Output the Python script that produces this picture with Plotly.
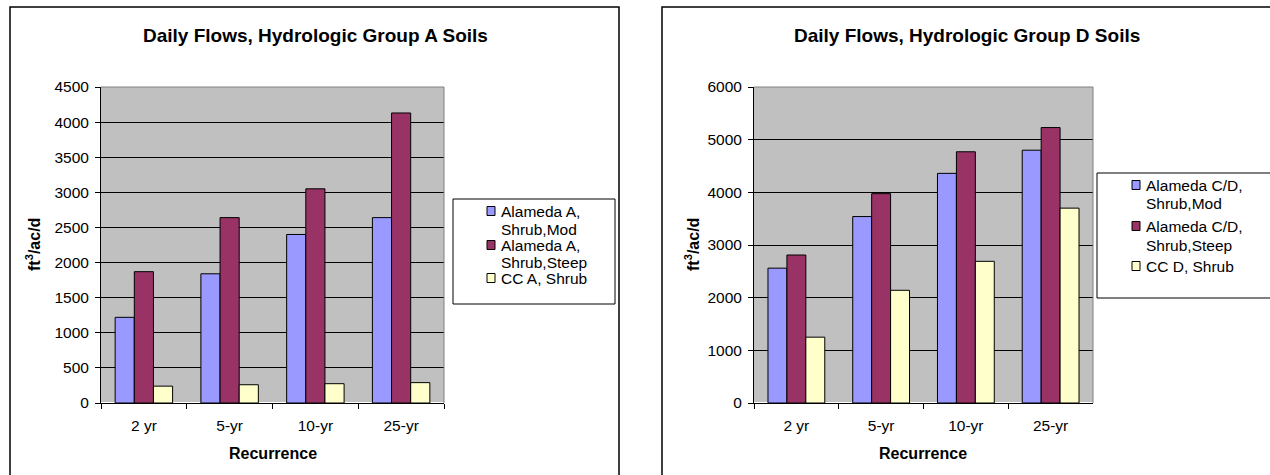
import plotly.graph_objects as go

W, H = 1270, 475

categories = ["2 yr", "5-yr", "10-yr", "25-yr"]

# Group A soils
a_names = ["Alameda A, Shrub,Mod", "Alameda A, Shrub,Steep", "CC A, Shrub"]
a_mod = [1220, 1840, 2400, 2640]
a_steep = [1870, 2640, 3050, 4130]
a_cc = [240, 260, 275, 290]

# Group D soils
d_names = ["Alameda C/D, Shrub,Mod", "Alameda C/D, Shrub,Steep", "CC D, Shrub"]
d_mod = [2560, 3540, 4360, 4800]
d_steep = [2810, 3975, 4770, 5230]
d_cc = [1250, 2140, 2690, 3700]

# legend text as displayed (wrapped lines)
a_legend_lines = [["Alameda A,", "Shrub,Mod"], ["Alameda A,", "Shrub,Steep"], ["CC A, Shrub"]]
d_legend_lines = [["Alameda C/D,", "Shrub,Mod"], ["Alameda C/D,", "Shrub,Steep"], ["CC D, Shrub"]]

colors = ["#9999FF", "#993366", "#FFFFCC"]
FONT = "Liberation Sans, Arial, sans-serif"
TICK = 15.5


def px(x):
    return x / W


def py(y):
    return 1 - y / H


fig = go.Figure()

for name, vals, c in zip(a_names, [a_mod, a_steep, a_cc], colors):
    fig.add_trace(go.Bar(x=categories, y=vals, name=name, marker=dict(color=c, line=dict(color="black", width=1)),
                         xaxis="x", yaxis="y", showlegend=False))
for name, vals, c in zip(d_names, [d_mod, d_steep, d_cc], colors):
    fig.add_trace(go.Bar(x=categories, y=vals, name=name, marker=dict(color=c, line=dict(color="black", width=1)),
                         xaxis="x2", yaxis="y2", showlegend=False))

axis_common = dict(showline=True, linecolor="black", linewidth=1, ticks="outside", tickcolor="black",
                   tickfont=dict(family=FONT, size=TICK, color="black"), fixedrange=True)

PT, PB = 87, 403

fig.update_layout(
    width=W, height=H,
    margin=dict(l=0, r=0, t=0, b=0, autoexpand=False),
    paper_bgcolor="white", plot_bgcolor="#C0C0C0",
    barmode="group", bargap=0.33, bargroupgap=0,
    font=dict(family=FONT, size=TICK, color="black"),
    xaxis=dict(domain=[px(101), px(444)], anchor="y", tickson="boundaries", ticklen=5,
               ticklabelstandoff=8, **axis_common),
    yaxis=dict(domain=[py(PB), py(PT)], anchor="x", range=[0, 4500], dtick=500, ticklen=5,
               ticklabelstandoff=3, showgrid=True, gridcolor="black", gridwidth=1, **axis_common),
    xaxis2=dict(domain=[px(754), px(1093)], anchor="y2", tickson="boundaries", ticklen=5,
                ticklabelstandoff=8, **axis_common),
    yaxis2=dict(domain=[py(PB), py(PT)], anchor="x2", range=[0, 6000], dtick=1000, ticklen=5,
                ticklabelstandoff=3, showgrid=True, gridcolor="black", gridwidth=1, **axis_common),
    showlegend=False,
)

shapes = []
# outer chart borders
shapes.append(dict(type="rect", xref="paper", yref="paper", x0=px(10), x1=px(619), y0=py(490), y1=py(7),
                   line=dict(color="black", width=1.5)))
shapes.append(dict(type="rect", xref="paper", yref="paper", x0=px(662), x1=px(1290), y0=py(490), y1=py(7),
                   line=dict(color="black", width=1.5)))
# plot-area borders (grey top/right)
for x0, x1 in [(101, 444), (754, 1093)]:
    shapes.append(dict(type="path", xref="paper", yref="paper",
                       path=f"M {px(x0)},{py(PT)} L {px(x1)},{py(PT)} L {px(x1)},{py(PB)}",
                       line=dict(color="#808080", width=1)))
# legend boxes
shapes.append(dict(type="rect", xref="paper", yref="paper", x0=px(453), x1=px(615), y0=py(304), y1=py(199),
                   line=dict(color="black", width=1)))
shapes.append(dict(type="rect", xref="paper", yref="paper", x0=px(1097), x1=px(1290), y0=py(298), y1=py(173),
                   line=dict(color="black", width=1)))

annotations = []


def add_legend(lines_list, marker_x, text_x, item_line_ys):
    for lines, c, ys in zip(lines_list, colors, item_line_ys):
        my = ys[0]
        shapes.append(dict(type="rect", xref="paper", yref="paper",
                           x0=px(marker_x), x1=px(marker_x + 8), y0=py(my + 4.5), y1=py(my - 4.5),
                           fillcolor=c, line=dict(color="black", width=1)))
        for t, y in zip(lines, ys):
            annotations.append(dict(text=t, x=px(text_x), y=py(y), xref="paper", yref="paper",
                                    showarrow=False, xanchor="left", yanchor="middle",
                                    font=dict(family=FONT, size=15.5, color="black")))


add_legend(a_legend_lines, 487, 499, [[211, 229], [245, 262], [278]])
add_legend(d_legend_lines, 1132, 1144, [[185, 203], [226, 245], [266]])

for cx, title in [(315, "Daily Flows, Hydrologic Group A Soils"), (967, "Daily Flows, Hydrologic Group D Soils")]:
    annotations.append(dict(text=f"<b>{title}</b>", x=px(cx), y=py(36), xref="paper", yref="paper",
                            showarrow=False, font=dict(family=FONT, size=19, color="black"),
                            xanchor="center", yanchor="middle"))
for cx in [272.5, 923.5]:
    annotations.append(dict(text="<b>Recurrence</b>", x=px(cx), y=py(453), xref="paper", yref="paper",
                            showarrow=False, font=dict(family=FONT, size=16, color="black"),
                            xanchor="center", yanchor="middle"))
for cx in [33, 692]:
    annotations.append(dict(text="<b>ft<sup>3</sup>/ac/d</b>", x=px(cx), y=py(245), xref="paper", yref="paper",
                            showarrow=False, textangle=-90, font=dict(family=FONT, size=16, color="black"),
                            xanchor="center", yanchor="middle"))

fig.update_layout(shapes=shapes, annotations=annotations)

fig.write_html("out.html", config={"displayModeBar": False},
               post_script="document.body.style.margin='0';document.body.style.overflow='hidden';")
